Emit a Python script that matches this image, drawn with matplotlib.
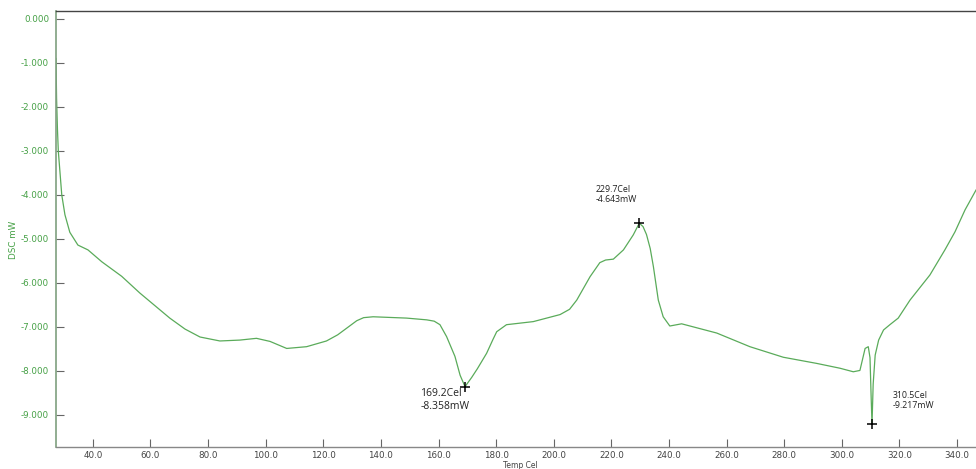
import matplotlib
matplotlib.use("Agg")
import matplotlib.pyplot as plt

plt.rcParams["axes.unicode_minus"] = False
plt.rcParams["font.family"] = ["DejaVu Sans"]

# DSC trace: temperature (Cel) and heat flow (mW)
temp_c = [27.2, 27.4, 27.7, 28.0, 28.6, 29.2, 30.3, 32.0, 34.8, 38.3, 43.1, 50.0,
          56.3, 66.7, 72.0, 77.2, 84.1, 91.0, 96.8, 101.5, 107.3, 114.2, 121.1,
          125.0, 128.1, 131.6, 134.0, 137.3, 148.9, 155.9, 158.5, 160.5, 162.8,
          165.7, 167.5, 169.2, 171.5, 173.5, 176.7, 178.8, 180.2, 183.6, 192.9,
          202.2, 205.5, 208.0, 212.6, 216.0, 218.0, 220.7, 224.2, 227.6, 229.7,
          231.0, 232.2, 233.5, 234.6, 236.3, 238.0, 240.3, 244.4, 256.6, 268.1,
          279.7, 291.3, 299.4, 304.0, 306.3, 308.1, 309.2, 309.8, 310.2, 310.5,
          310.9, 311.6, 312.8, 314.5, 316.7, 319.6, 323.7, 330.6, 335.8, 339.3,
          342.8, 346.6]
dsc_mw = [-0.90, -1.80, -2.50, -3.00, -3.50, -4.00, -4.45, -4.85, -5.14, -5.25, -5.52, -5.85,
          -6.23, -6.80, -7.05, -7.23, -7.32, -7.30, -7.26, -7.33, -7.49, -7.45, -7.32,
          -7.18, -7.03, -6.86, -6.79, -6.77, -6.80, -6.84, -6.87, -6.95, -7.22,
          -7.67, -8.10, -8.358, -8.15, -7.95, -7.60, -7.30, -7.11, -6.95, -6.88,
          -6.72, -6.60, -6.39, -5.86, -5.54, -5.48, -5.46, -5.25, -4.91, -4.643,
          -4.72, -4.90, -5.22, -5.63, -6.39, -6.77, -6.98, -6.93, -7.14, -7.45,
          -7.69, -7.83, -7.94, -8.02, -7.99, -7.49, -7.45, -7.70, -8.60, -9.217,
          -8.30, -7.64, -7.30, -7.07, -6.95, -6.80, -6.39, -5.82, -5.25, -4.84,
          -4.34, -3.89]

# Annotated peaks
peak_temp = [169.2, 229.7, 310.5]
peak_mw = [-8.358, -4.643, -9.217]
peak_text_pos = [(153.6, -8.40), (214.7, -3.77), (317.8, -8.46)]
peak_font = [7.5, 6.3, 6.3]

x_ticks = [40, 60, 80, 100, 120, 140, 160, 180, 200, 220, 240, 260, 280, 300, 320, 340]
y_ticks = [0, -1, -2, -3, -4, -5, -6, -7, -8, -9]

fig = plt.figure(figsize=(9.76, 4.69), dpi=100)
ax = fig.add_axes([56 / 976, 22 / 469, 1 - 56 / 976, 436 / 469])

ax.plot(temp_c, dsc_mw, color="#5aab5a", lw=0.9)
ax.plot(peak_temp, peak_mw, linestyle="none", marker="+", color="black",
        markersize=7, markeredgewidth=1.1)

for t, m, (tx, ty), fs in zip(peak_temp, peak_mw, peak_text_pos, peak_font):
    ax.text(tx, ty, f"{t:.1f}Cel\n{m:.3f}mW", fontsize=fs, color="#222222",
            ha="left", va="top", family="Open Sans", linespacing=1.15)

ax.set_xlim(27.2, 346.6)
ax.set_ylim(-9.73, 0.18)

ax.set_xticks(x_ticks)
ax.set_xticklabels([f"{v:.1f}" for v in x_ticks])
ax.set_yticks(y_ticks)
ax.set_yticklabels([f"{v:.3f}" for v in y_ticks])

ax.tick_params(axis="x", direction="in", length=6, width=0.8, color="#666666",
               labelsize=6.3, labelcolor="#444444", pad=3)
ax.tick_params(axis="y", direction="in", length=6, width=0.8, color="#666666",
               labelsize=6.3, labelcolor="#45a045", pad=5)

ax.spines["right"].set_visible(False)
ax.spines["top"].set_color("#444444")
ax.spines["top"].set_linewidth(1.0)
ax.spines["left"].set_color("#7fa07f")
ax.spines["left"].set_linewidth(1.2)
ax.spines["bottom"].set_color("#888888")
ax.spines["bottom"].set_linewidth(1.0)

fig.text(520 / 976, 1 - 465 / 469, "Temp Cel", fontsize=5.5, color="#444444",
         ha="center", va="center")
fig.text(14 / 976, 1 - 240 / 469, "DSC mW", fontsize=6.3, color="#45a045",
         ha="center", va="center", rotation=90)

fig.savefig("out.png", dpi=100, facecolor="white")
